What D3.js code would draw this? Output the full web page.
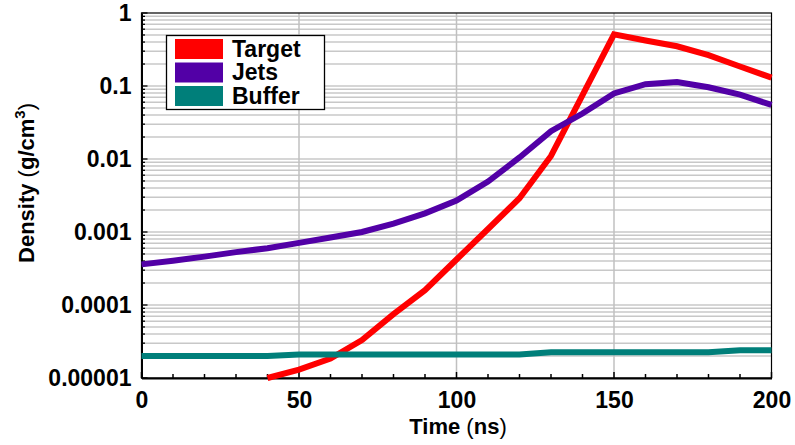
<!DOCTYPE html>
<html><head><meta charset="utf-8">
<script src="https://cdn.jsdelivr.net/npm/d3@7"></script>
<style>body{margin:0;background:#fff}svg{display:block}</style>
</head><body><div id="chart"></div>
<script>
const times = [0,10,20,30,40,50,60,70,80,90,100,110,120,130,140,150,160,170,180,190,200];
const targetTimes = [40,50,60,70,80,90,100,110,120,130,140,150,160,170,180,190,200];
const targetValues = [1.0e-5,1.3e-5,1.85e-5,3.3e-5,7.5e-5,1.6e-4,4.2e-4,1.1e-3,2.9e-3,1.1e-2,7.5e-2,0.51,0.42,0.35,0.265,0.185,0.13];
const jetsValues = [3.6e-4,4.05e-4,4.6e-4,5.3e-4,6.0e-4,7.1e-4,8.4e-4,1.0e-3,1.3e-3,1.8e-3,2.7e-3,4.9e-3,1.05e-2,2.4e-2,4.2e-2,0.079,0.106,0.113,0.096,0.076,0.055];
const bufferValues = [2.0e-5,2.0e-5,2.0e-5,2.0e-5,2.0e-5,2.1e-5,2.1e-5,2.1e-5,2.1e-5,2.1e-5,2.1e-5,2.1e-5,2.1e-5,2.25e-5,2.25e-5,2.25e-5,2.25e-5,2.25e-5,2.25e-5,2.4e-5,2.4e-5];
const seriesNames = ["Target","Jets","Buffer"];
const seriesColors = ["#ff0000","#5200a6","#007f7a"];
const xTickValues = [0,50,100,150,200];
const yTickValues = [1,0.1,0.01,0.001,0.0001,0.00001];
const yTickLabels = ["1","0.1","0.01","0.001","0.0001","0.00001"];

const W=795,H=445;
const L=141.5,R=771.5,T=13,B=378;
const svg=d3.select("#chart").append("svg").attr("width",W).attr("height",H);
const x=d3.scaleLinear().domain([0,200]).range([L,R]);
const y=d3.scaleLog().domain([1e-5,1]).range([B,T]);
const font="'Liberation Sans', Arial, sans-serif";

const minorY=[];
for(let e=-5;e<0;e++){for(let k=1;k<10;k++){minorY.push(k*Math.pow(10,e));}}
minorY.push(1);

svg.append("g").selectAll("line").data(minorY.filter(v=>v>1e-5&&v<1)).join("line")
  .attr("x1",L).attr("x2",R).attr("y1",d=>y(d)).attr("y2",d=>y(d))
  .attr("stroke","#c8c8c8").attr("stroke-width",1.5);
svg.append("g").selectAll("line").data([50,100,150]).join("line")
  .attr("x1",d=>x(d)).attr("x2",d=>x(d)).attr("y1",T).attr("y2",B)
  .attr("stroke","#c0c0c0").attr("stroke-width",1.5);

svg.append("rect").attr("x",L).attr("y",T).attr("width",R-L).attr("height",B-T)
  .attr("fill","none").attr("stroke","#000").attr("stroke-width",1.2);

const xAxis=d3.axisBottom(x).tickValues(xTickValues).tickSize(0).tickPadding(14).tickFormat(d3.format("d"));
const gx=svg.append("g").attr("transform",`translate(0,${B})`).call(xAxis);
gx.select(".domain").attr("stroke","#000").attr("stroke-width",2);
gx.selectAll("text").attr("font-family",font).attr("font-weight","bold").attr("font-size",23).attr("fill","#000");
const xMinor=d3.range(0,201,10);
svg.append("g").selectAll("line").data(xMinor).join("line")
  .attr("x1",d=>x(d)).attr("x2",d=>x(d)).attr("y1",B).attr("y2",d=>B-(d%50===0?6:4))
  .attr("stroke","#000").attr("stroke-width",1.5);

const yAxis=d3.axisLeft(y).tickValues(yTickValues).tickSize(0).tickPadding(10)
  .tickFormat((d,i)=>yTickLabels[i]);
const gy=svg.append("g").attr("transform",`translate(${L},0)`).call(yAxis);
gy.select(".domain").attr("stroke","#000").attr("stroke-width",2);
gy.selectAll("text").attr("font-family",font).attr("font-weight","bold").attr("font-size",23).attr("fill","#000");
svg.append("g").selectAll("line").data(minorY).join("line")
  .attr("x1",L).attr("x2",d=>L+(yTickValues.some(v=>Math.abs(v-d)/d<1e-6)?6:3.5))
  .attr("y1",d=>y(d)).attr("y2",d=>y(d))
  .attr("stroke","#000").attr("stroke-width",1.3);

const line=d3.line().x(d=>x(d[0])).y(d=>y(d[1]));
const data=[
  d3.zip(targetTimes,targetValues),
  d3.zip(times,jetsValues),
  d3.zip(times,bufferValues)
];
svg.append("g").selectAll("path").data(data).join("path")
  .attr("d",line).attr("fill","none")
  .attr("stroke",(d,i)=>seriesColors[i]).attr("stroke-width",6)
  .attr("stroke-linejoin","miter");

const lg=svg.append("g");
lg.append("rect").attr("x",166.5).attr("y",35.5).attr("width",158).attr("height",74)
  .attr("fill","#fff").attr("stroke","#000").attr("stroke-width",1.3);
seriesNames.forEach((n,i)=>{
  lg.append("rect").attr("x",175).attr("y",39+i*23.5).attr("width",48).attr("height",20).attr("fill",seriesColors[i]);
  lg.append("text").attr("x",232).attr("y",56.5+i*23.5).text(n)
    .attr("font-family",font).attr("font-weight","bold").attr("font-size",23).attr("fill","#000");
});

const xl=svg.append("text").attr("x",458).attr("y",434).attr("text-anchor","middle")
  .attr("font-family",font).attr("font-size",22).attr("fill","#000");
xl.append("tspan").attr("font-weight","bold").text("Time");
xl.append("tspan").attr("font-weight","normal").text(" (");
xl.append("tspan").attr("font-weight","bold").text("ns");
xl.append("tspan").attr("font-weight","normal").text(")");

const yl=svg.append("text").attr("transform","translate(34,183) rotate(-90)").attr("text-anchor","middle")
  .attr("font-family",font).attr("font-size",22).attr("fill","#000");
yl.append("tspan").attr("font-weight","bold").text("Density");
yl.append("tspan").attr("font-weight","normal").text(" (");
yl.append("tspan").attr("font-weight","bold").text("g/cm");
yl.append("tspan").attr("font-weight","bold").attr("font-size",15).attr("dy",-9).text("3");
yl.append("tspan").attr("font-weight","normal").attr("dy",9).text(")");
</script></body></html>
